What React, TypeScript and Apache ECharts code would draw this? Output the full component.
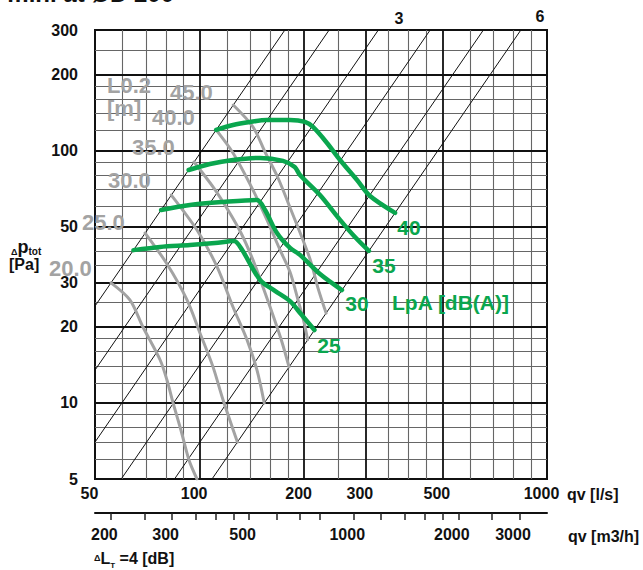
import React, { useEffect, useRef } from "react";
import * as echarts from "echarts";

// ---- axis / grid values ----
const qvMajorGrid = [100, 200, 300, 500];
const qvMinorGrid = [60, 70, 80, 90, 120, 140, 160, 180, 250, 350, 400, 450, 600, 700, 800, 900];
const dpMajorGrid = [10, 20, 30, 50, 100, 200];
const dpMinorGrid = [6, 7, 8, 9, 12, 14, 16, 18, 25, 35, 40, 45, 60, 70, 80, 90, 120, 140, 160, 180, 250];
const qvLabels = [50, 100, 200, 300, 500, 1000];
const dpLabels = [5, 10, 20, 30, 50, 100, 200, 300];
const m3hTicks = [200, 250, 300, 350, 400, 450, 500, 600, 700, 800, 1000, 1200, 1400, 1600, 1800, 2000, 2500, 3000];
const m3hLabels = [200, 300, 500, 1000, 2000, 3000];

// ---- diagonal lines (endpoints [qv l/s, dp Pa]) ----
const diagonalLines: number[][][] = [
  [[50, 24.2], [176, 300]],
  [[50, 13.5], [236, 300]],
  [[50, 7.0], [327, 300]],
  [[59.5, 5], [461, 300]],
  [[84.7, 5], [656, 300]],
  [[108.6, 5], [841, 300]],
];

// ---- throw curves L0.2 [m] ----
const throw20 = [[55.6, 29.9], [63.0, 25.6], [68.7, 20.0], [77.0, 14.8], [80.6, 12.3], [83.9, 10.0], [88.4, 7.8], [93.2, 5.95], [98.3, 5.0]];
const throw25 = [[69.7, 47.1], [80.6, 35.5], [92.0, 25.6], [100.3, 18.9], [109.3, 13.9], [116.8, 10.3], [128.5, 7.0]];
const throw30 = [[82.9, 66.6], [98.3, 48.4], [112.3, 34.6], [124.8, 24.0], [136.9, 17.8], [146.3, 13.5], [153.5, 10.0]];
const throw35 = [[96.4, 90.0], [109.3, 71.7], [120.7, 58.1], [131.6, 47.1], [142.5, 36.8], [153.3, 28.0], [163.7, 21.7], [172.7, 17.4], [180.9, 13.9]];
const throw40 = [[111.6, 120.6], [124.8, 97.7], [142.5, 69.7], [156.3, 53.1], [170.4, 40.4], [182.1, 33.0], [192.0, 25.6], [199.8, 20.9], [204.6, 17.8]];
const throw45 = [[125.0, 151.4], [142.5, 123.9], [154.3, 98.6], [168.2, 77.8], [183.3, 58.1], [198.4, 44.2], [209.2, 36.2], [219.2, 28.5], [231.3, 22.7]];

// ---- sound level curves LpA [dB(A)] ----
const lpa25 = [[64.5, 40.3], [77.0, 41.5], [93.8, 42.2], [110.8, 43.0], [125.6, 43.8], [132.5, 40.4], [149.3, 30.7], [164.8, 27.8], [182.1, 25.3], [195.8, 22.5], [214.1, 19.45]];
const lpa30 = [[77.5, 58.1], [93.8, 60.8], [116.8, 62.5], [146.3, 63.7], [154.3, 58.1], [167.0, 47.1], [182.1, 41.1], [194.5, 38.6], [222.1, 32.4], [256.9, 28.0]];
const lpa35 = [[93.0, 83.7], [107.1, 88.4], [124.8, 91.7], [149.3, 93.4], [173.8, 90.9], [187.9, 86.0], [194.5, 80.0], [222.1, 66.6], [253.7, 53.1], [280.1, 45.4], [307.1, 40.0]];
const lpa40 = [[111.6, 120.6], [124.8, 126.2], [139.7, 129.7], [156.3, 132.0], [182.1, 132.0], [201.1, 129.7], [212.0, 123.9], [232.7, 107.1], [253.7, 91.7], [283.9, 76.4], [309.5, 66.0], [365.3, 56.6]];

const FONT = '"Liberation Sans", Arial, Helvetica, sans-serif';
const L = (v: number) => Math.log10(v);

function txt(x: number, y: number, text: string, font: string, fill: string, align = "left", extra: any = {}) {
  return {
    type: "text",
    x,
    y,
    silent: true,
    z: 50,
    style: {
      text,
      font,
      fill,
      align,
      textAlign: align,
      verticalAlign: "middle",
      textVerticalAlign: "middle",
      ...extra,
    },
  };
}

export default function App() {
  const ref = useRef<HTMLDivElement>(null);
  useEffect(() => {
    const el = ref.current!;
    const chart = echarts.init(el, null, { renderer: "svg" });
    const X0 = L(50), X1 = L(1000), Y0 = L(5), Y1 = L(300);
    const lg = (p: number[]) => [L(p[0]), L(p[1])];
    const vLines = (vals: number[]) => vals.map((v) => ({ coords: [[L(v), Y0], [L(v), Y1]] }));
    const hLines = (vals: number[]) => vals.map((v) => ({ coords: [[X0, L(v)], [X1, L(v)]] }));
    const fmt = (v: number) => String(Math.round(Math.pow(10, v)));
    const fmtShift = (v: number) => "{a|" + String(Math.round(Math.pow(10, v))) + "}";
    const labelFont = { fontFamily: FONT, fontWeight: "bold" as const, fontSize: 16, color: "#111" };
    const richShift = (pad: number) => ({ a: { ...labelFont, padding: [0, pad, 0, 0] } });

    const grey = "#a3a3a3";
    const green = "#0aa64e";
    const throwCurves = [throw20, throw25, throw30, throw35, throw40, throw45];
    const lpaCurves = [lpa25, lpa30, lpa35, lpa40];

    const option: any = {
      animation: false,
      backgroundColor: "#fff",
      grid: { left: 95, top: 30, width: 452, height: 449, show: true, borderColor: "#111", borderWidth: 2, backgroundColor: "transparent" },
      xAxis: [
        {
          type: "value", min: X0, max: X1, position: "bottom",
          axisLine: { show: false, onZero: false }, axisTick: { show: false }, splitLine: { show: false },
          axisLabel: { customValues: qvLabels.map(L), formatter: fmtShift, margin: 6, rich: richShift(11), ...labelFont },
        },
        {
          type: "value", min: L(180), max: L(3600), position: "bottom", offset: 34,
          axisLine: { show: true, onZero: false, lineStyle: { color: "#111", width: 2 } },
          axisTick: { show: true, customValues: m3hTicks.map(L), length: 7, lineStyle: { color: "#222", width: 1.5 } },
          splitLine: { show: false },
          axisLabel: { customValues: m3hLabels.map(L), formatter: fmtShift, margin: 13, rich: richShift(13), ...labelFont },
        },
      ],
      yAxis: {
        type: "value", min: Y0, max: Y1,
        axisLine: { show: false, onZero: false }, axisTick: { show: false }, splitLine: { show: false },
        axisLabel: { customValues: dpLabels.map(L), formatter: fmt, margin: 17, ...labelFont },
      },
      series: [
        { type: "lines", coordinateSystem: "cartesian2d", silent: true, z: 1, data: [...vLines(qvMinorGrid), ...hLines(dpMinorGrid)], lineStyle: { color: "#666", width: 1.1, opacity: 1 } },
        { type: "lines", coordinateSystem: "cartesian2d", silent: true, z: 1, data: [...vLines(qvMajorGrid), ...hLines(dpMajorGrid)], lineStyle: { color: "#111", width: 1.8, opacity: 1 } },
        { type: "lines", coordinateSystem: "cartesian2d", silent: true, z: 2, data: diagonalLines.map((s) => ({ coords: s.map(lg) })), lineStyle: { color: "#111", width: 1, opacity: 1 } },
        ...throwCurves.map((c) => ({
          type: "line", data: c.map(lg), showSymbol: false, symbol: "none", smooth: 0.3, silent: true, z: 3,
          lineStyle: { color: grey, width: 3, cap: "round" },
        })),
        ...lpaCurves.map((c) => ({
          type: "line", data: c.map(lg), showSymbol: false, symbol: "none", smooth: 0.3, silent: true, z: 4,
          lineStyle: { color: green, width: 4.5, cap: "round", join: "round" },
        })),
      ],
      graphic: {
        elements: [
          txt(-14, -7, "n min. at ØD 200", `bold 24px ${FONT}`, "#111"),
          txt(399, 18, "3", `bold 16px ${FONT}`, "#111", "center"),
          txt(540, 16, "6", `bold 16px ${FONT}`, "#111", "center"),
          txt(107, 85, "L0.2", `bold 22px ${FONT}`, grey),
          txt(107, 108, "[m]", `bold 22px ${FONT}`, grey),
          txt(170, 92, "45.0", `bold 22px ${FONT}`, grey),
          txt(152, 117, "40.0", `bold 22px ${FONT}`, grey),
          txt(132, 147, "35.0", `bold 22px ${FONT}`, grey),
          txt(108, 180, "30.0", `bold 22px ${FONT}`, grey),
          txt(82, 222, "25.0", `bold 22px ${FONT}`, grey),
          txt(49, 268, "20.0", `bold 22px ${FONT}`, grey),
          txt(409, 227, "40", `bold 21px ${FONT}`, green, "center"),
          txt(384, 265, "35", `bold 21px ${FONT}`, green, "center"),
          txt(357, 303, "30", `bold 21px ${FONT}`, green, "center"),
          txt(329, 345, "25", `bold 21px ${FONT}`, green, "center"),
          txt(392, 302, "LpA [dB(A)]", `bold 21px ${FONT}`, green),
          txt(567, 494, "qv [l/s]", `bold 16px ${FONT}`, "#111"),
          txt(568, 536, "qv [m3/h]", `bold 16px ${FONT}`, "#111"),
          txt(11, 247, "{d|Δ}{p|p}{s|tot}", `bold 18px ${FONT}`, "#111", "left", {
            rich: {
              d: { fontSize: 9, fontFamily: FONT, fontWeight: "bold", fill: "#111", verticalAlign: "bottom" },
              p: { fontSize: 18, fontFamily: FONT, fontWeight: "bold", fill: "#111" },
              s: { fontSize: 10, fontFamily: FONT, fontWeight: "bold", fill: "#111", padding: [8, 0, 0, 0] },
            },
          }),
          txt(9, 264, "[Pa]", `bold 16px ${FONT}`, "#111"),
          txt(94, 558, "{d|Δ}{l|L}{s|T}{r| =4 [dB]}", `bold 16px ${FONT}`, "#111", "left", {
            rich: {
              d: { fontSize: 9, fontFamily: FONT, fontWeight: "bold", fill: "#111" },
              l: { fontSize: 16, fontFamily: FONT, fontWeight: "bold", fill: "#111" },
              s: { fontSize: 8, fontFamily: FONT, fontWeight: "bold", fill: "#111", padding: [14, 0, 0, 0] },
              r: { fontSize: 16, fontFamily: FONT, fontWeight: "bold", fill: "#111" },
            },
          }),
        ],
      },
    };
    chart.setOption(option);
    return () => chart.dispose();
  }, []);
  return <div ref={ref} style={{ position: "fixed", left: 0, top: 0, width: 643, height: 570, background: "#fff" }} />;
}
